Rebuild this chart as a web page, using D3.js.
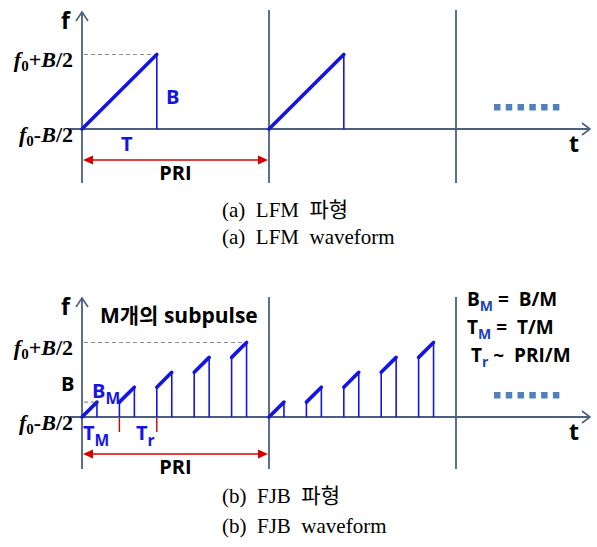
<!DOCTYPE html>
<html><head><meta charset="utf-8">
<script src="https://cdn.jsdelivr.net/npm/d3@7"></script>
<style>
body{margin:0;background:#fff}
svg{display:block}
.sans{font-family:"Open Sans","Noto Sans CJK KR",sans-serif;font-weight:700}
.serif{font-family:"Liberation Serif","Noto Sans CJK KR",serif}
</style>
</head><body>
<svg id="chart" width="597" height="547"></svg>
<script>
// Time is measured in PRI units, frequency in units of the full bandwidth B.
const periodLines = [0, 1, 2];
const lfmStarts = [0, 1];
const lfmDuration = 0.4;          // T
const lfmBand = [0, 1];           // f0-B/2 .. f0+B/2
const fjbStarts = [0, 0.2, 0.4, 0.6, 0.8, 1, 1.2, 1.4, 1.6, 1.8];
const fjbLow = [0, 0.2, 0.4, 0.6, 0.8, 0, 0.2, 0.4, 0.6, 0.8];
const fjbHigh = [0.2, 0.4, 0.6, 0.8, 1, 0.2, 0.4, 0.6, 0.8, 1];
const fjbDuration = 0.08;         // T_M
const trMarks = [0.2, 0.4];       // T_r marks on the time axis
const moreDots = [2.219, 2.282, 2.345, 2.408, 2.471, 2.534];

const svg = d3.select("#chart");
const AXIS = "#4b607e", BLUE = "#1414e6", RED = "#d40000", DOTS = "#4f81bd";

const x = d3.scaleLinear().domain([0, 1]).range([82, 269]);
const tEnd = x.invert(590);

function panel(cfg) {
  const y = d3.scaleLinear().domain([0, 1]).range([cfg.base, cfg.base - 74.5]);
  const g = svg.append("g");

  // period boundaries
  g.selectAll("line.period").data(periodLines).join("line")
    .attr("x1", d => x(d)).attr("x2", d => x(d))
    .attr("y1", d => d === 0 ? cfg.axisTop : cfg.lineTop).attr("y2", cfg.lineBottom)
    .attr("stroke", AXIS).attr("stroke-width", 1.8);

  // time axis
  g.append("line").attr("x1", 70).attr("x2", x(tEnd)).attr("y1", cfg.base).attr("y2", cfg.base)
    .attr("stroke", AXIS).attr("stroke-width", 1.8);
  g.append("path").attr("d", `M${x(tEnd) - 8},${cfg.base - 6} L${x(tEnd)},${cfg.base} L${x(tEnd) - 8},${cfg.base + 6}`)
    .attr("fill", "none").attr("stroke", AXIS).attr("stroke-width", 1.6);
  // frequency axis arrow head
  g.append("path").attr("d", `M${x(0) - 6},${cfg.axisTop + 9} L${x(0)},${cfg.axisTop} L${x(0) + 6},${cfg.axisTop + 9}`)
    .attr("fill", "none").attr("stroke", AXIS).attr("stroke-width", 1.6);

  // top frequency guide
  g.append("line").attr("x1", x(0) + 2).attr("x2", x(cfg.guideEnd)).attr("y1", y(1)).attr("y2", y(1))
    .attr("stroke", "#8c8c8c").attr("stroke-width", 1.1).attr("stroke-dasharray", "4,3");

  // pulses: drop line then ramp
  g.selectAll("line.drop").data(cfg.pulses).join("line")
    .attr("x1", d => x(d.s + cfg.dur)).attr("x2", d => x(d.s + cfg.dur))
    .attr("y1", d => y(d.hi)).attr("y2", cfg.base)
    .attr("stroke", BLUE).attr("stroke-width", 1.6);
  g.selectAll("line.lead").data(cfg.pulses.filter(d => d.lo > 0)).join("line")
    .attr("x1", d => x(d.s)).attr("x2", d => x(d.s))
    .attr("y1", d => y(d.lo)).attr("y2", cfg.base)
    .attr("stroke", BLUE).attr("stroke-width", 1.6);
  g.selectAll("line.ramp").data(cfg.pulses).join("line")
    .attr("x1", d => x(d.s)).attr("x2", d => x(d.s + cfg.dur))
    .attr("y1", d => y(d.lo)).attr("y2", d => y(d.hi))
    .attr("stroke", BLUE).attr("stroke-width", 3.6).attr("stroke-linecap", "round");

  // PRI span arrow
  g.append("line").attr("x1", x(0) + 8).attr("x2", x(1) - 8).attr("y1", cfg.priY).attr("y2", cfg.priY)
    .attr("stroke", RED).attr("stroke-width", 1.6);
  g.append("path").attr("d", `M${x(0) + 1},${cfg.priY} L${x(0) + 11},${cfg.priY - 4.5} L${x(0) + 11},${cfg.priY + 4.5}Z`).attr("fill", RED);
  g.append("path").attr("d", `M${x(1) - 1},${cfg.priY} L${x(1) - 11},${cfg.priY - 4.5} L${x(1) - 11},${cfg.priY + 4.5}Z`).attr("fill", RED);

  // continuation dots
  g.selectAll("rect.more").data(moreDots).join("rect")
    .attr("x", d => x(d) - 3).attr("y", cfg.dotsY - 3).attr("width", 6.5).attr("height", 6.5)
    .attr("fill", DOTS);

  // labels
  g.append("text").attr("class", "sans").attr("x", 61).attr("y", cfg.axisTop + 17)
    .attr("font-size", 23).text("f");
  g.append("text").attr("class", "sans").attr("x", 569).attr("y", cfg.base + 23)
    .attr("font-size", 23).text("t");
  g.append("text").attr("class", "sans").attr("x", x(0.5)).attr("y", cfg.priY + 20)
    .attr("text-anchor", "middle").attr("font-size", 20).text("PRI");

  const fLabel = (yy, sign) => {
    const t = g.append("text").attr("class", "serif").attr("x", 73).attr("y", yy)
      .attr("text-anchor", "end").attr("font-size", 22).attr("font-weight", 700);
    t.append("tspan").attr("font-style", "italic").text("f");
    t.append("tspan").attr("dy", 4).attr("font-size", 15).text("0");
    t.append("tspan").attr("dy", -4).text(sign);
    t.append("tspan").attr("font-style", "italic").text("B");
    t.append("tspan").text("/2");
  };
  fLabel(y(1) + 12, "+");
  fLabel(cfg.base + 13, "-");
  return { g, y };
}

// (a) LFM
const a = panel({
  base: 129, axisTop: 12, lineTop: 10, lineBottom: 183, priY: 160, dotsY: 107,
  guideEnd: lfmDuration, dur: lfmDuration,
  pulses: lfmStarts.map(s => ({ s, lo: lfmBand[0], hi: lfmBand[1] }))
});
a.g.append("text").attr("class", "sans").attr("x", 166).attr("y", 104)
  .attr("font-size", 20).attr("fill", BLUE).text("B");
a.g.append("text").attr("class", "sans").attr("x", 121).attr("y", 151)
  .attr("font-size", 20).attr("fill", BLUE).text("T");

// (b) FJB
const b = panel({
  base: 417, axisTop: 298, lineTop: 297, lineBottom: 469, priY: 454, dotsY: 395,
  guideEnd: 0.88, dur: fjbDuration,
  pulses: fjbStarts.map((s, i) => ({ s, lo: fjbLow[i], hi: fjbHigh[i] }))
});
// first sub-band guide
b.g.append("line").attr("x1", x(0) + 2).attr("x2", x(fjbDuration)).attr("y1", b.y(0.2)).attr("y2", b.y(0.2))
  .attr("stroke", "#8c8c8c").attr("stroke-width", 1.1).attr("stroke-dasharray", "4,3");
b.g.selectAll("line.tr").data(trMarks).join("line")
  .attr("x1", d => x(d)).attr("x2", d => x(d)).attr("y1", 418).attr("y2", 432)
  .attr("stroke", RED).attr("stroke-width", 1.4);

const sub = (sel, main, subTxt) => {
  sel.append("tspan").text(main);
  sel.append("tspan").attr("font-size", "0.78em").attr("dy", 6).text(subTxt);
};
b.g.append("text").attr("class", "sans").attr("x", 61).attr("y", 391).attr("font-size", 20).text("B");
sub(b.g.append("text").attr("class", "sans").attr("x", 92).attr("y", 398).attr("font-size", 20).attr("fill", BLUE), "B", "M");
sub(b.g.append("text").attr("class", "sans").attr("x", 83).attr("y", 440).attr("font-size", 20).attr("fill", BLUE), "T", "M");
sub(b.g.append("text").attr("class", "sans").attr("x", 136).attr("y", 440).attr("font-size", 20).attr("fill", BLUE), "T", "r");
b.g.append("text").attr("class", "sans").attr("x", 100).attr("y", 323).attr("font-size", 21).text("M개의 subpulse");

const rel = [
  { y: 306, x: 467, main: "B", s: "M", rest: " =  B/M" },
  { y: 334, x: 467, main: "T", s: "M", rest: " =  T/M" },
  { y: 362, x: 471, main: "T", s: "r", rest: " ~  PRI/M" }
];
rel.forEach(r => {
  const t = b.g.append("text").attr("class", "sans").attr("x", r.x).attr("y", r.y)
    .attr("font-size", 19).style("white-space", "pre");
  t.append("tspan").text(r.main);
  t.append("tspan").attr("fill", "#1f3fbf").attr("font-size", 14).attr("dy", 5).text(r.s);
  t.append("tspan").attr("dy", -5).text(r.rest);
});

// captions
const caps = [
  { y: 217, t: "(a)  LFM  파형" },
  { y: 244, t: "(a)  LFM  waveform" },
  { y: 503, t: "(b)  FJB  파형" },
  { y: 533, t: "(b)  FJB  waveform" }
];
svg.selectAll("text.cap").data(caps).join("text")
  .attr("class", "serif cap").attr("x", 222).attr("y", d => d.y)
  .attr("font-size", 21).style("white-space", "pre").text(d => d.t);
</script>
</body></html>
